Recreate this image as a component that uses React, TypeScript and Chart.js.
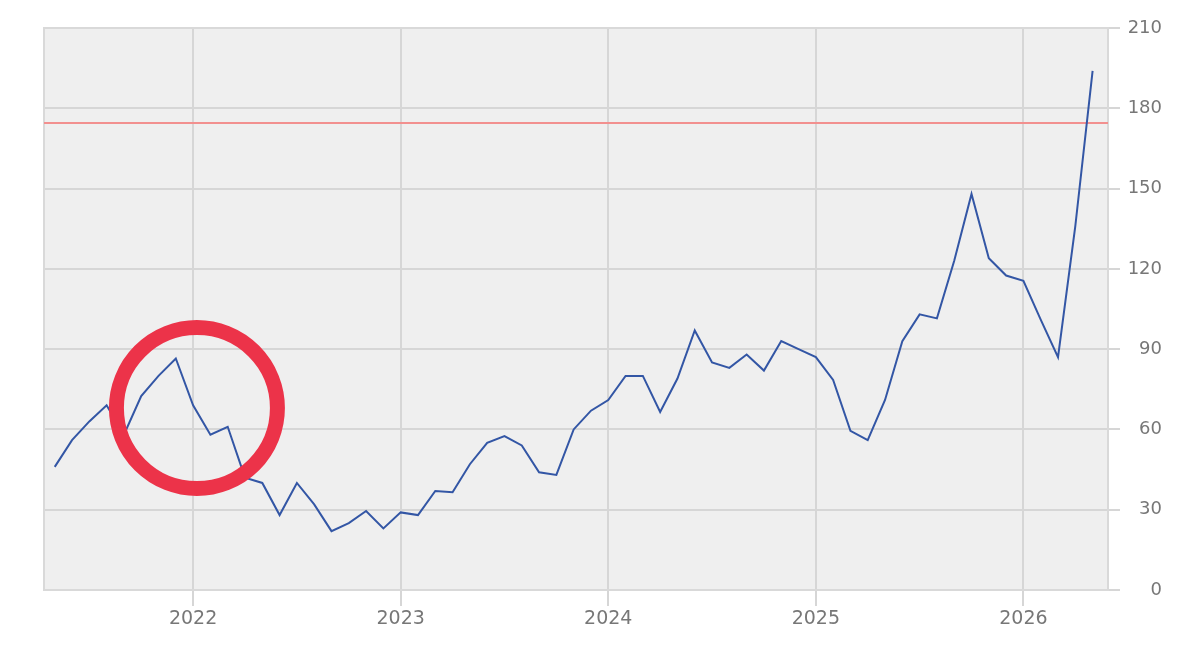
import { useEffect, useRef } from 'react';
import { Chart, registerables } from 'chart.js';

Chart.register(...registerables);

// monthly series, starting May 2021
const START_YEAR = 2021;
const START_MONTH = 5;
const VALUES = [
  46, 56, 63, 69, 58, 72.5, 80, 86.5,
  69, 58, 61, 42, 40, 28, 40, 32, 22, 25, 29.5, 23,
  29, 28, 37, 36.5, 47, 55, 57.5, 54, 44, 43, 60, 67,
  71, 80, 80, 66.5, 79, 97, 85, 83, 88, 82, 93, 90,
  87, 78.5, 59.5, 56, 71, 93, 103, 101.5, 123, 148, 124, 117.5,
  115.5, 101, 87, 136, 194,
];
const YEAR_LABELS = ['2022', '2023', '2024', '2025', '2026'];
const Y_MIN = 0;
const Y_MAX = 210;
const Y_STEP = 30;
const THRESHOLD = 174.5;

// x axis in months since Jan of START_YEAR
const X_MIN = 3.38;
const X_MAX = 64.89;

// highlight ring (data coords of centre)
const RING_X = 12.22;
const RING_Y = 68;

const monthX = (i: number) => START_MONTH - 1 + i;

const framePlugin = {
  id: 'frame',
  beforeDraw(chart: any) {
    const { ctx, chartArea } = chart;
    const { left, top, right, bottom } = chartArea;
    ctx.save();
    ctx.fillStyle = '#efefef';
    ctx.fillRect(left, top, right - left, bottom - top);
    ctx.restore();
  },
  beforeDatasetsDraw(chart: any) {
    const { ctx, chartArea } = chart;
    const { left, top, right, bottom } = chartArea;
    ctx.save();
    ctx.strokeStyle = '#d9d9d9';
    ctx.lineWidth = 2;
    ctx.strokeRect(left, top, right - left, bottom - top);
    ctx.restore();
  },
  afterDraw(chart: any) {
    const { ctx, scales } = chart;
    const cx = scales.x.getPixelForValue(RING_X);
    const cy = scales.y.getPixelForValue(RING_Y);
    ctx.save();
    ctx.strokeStyle = '#ec3349';
    ctx.lineWidth = 15;
    ctx.beginPath();
    ctx.arc(cx, cy, 80.5, 0, Math.PI * 2);
    ctx.stroke();
    ctx.restore();
  },
};

export default function App() {
  const canvasRef = useRef<HTMLCanvasElement>(null);
  const chartRef = useRef<Chart | null>(null);

  useEffect(() => {
    if (!canvasRef.current) return;
    if (chartRef.current) chartRef.current.destroy();

    const points = VALUES.map((v, i) => ({ x: monthX(i), y: v }));

    chartRef.current = new Chart(canvasRef.current, {
      type: 'line',
      data: {
        datasets: [
          {
            data: points,
            borderColor: '#3356a5',
            borderWidth: 2,
            pointRadius: 0,
            tension: 0,
          },
          {
            data: [
              { x: X_MIN, y: THRESHOLD },
              { x: X_MAX, y: THRESHOLD },
            ],
            borderColor: '#f2908f',
            borderWidth: 2,
            pointRadius: 0,
          },
        ],
      },
      options: {
        animation: false,
        responsive: true,
        maintainAspectRatio: false,
        layout: { padding: { left: 36, top: 20, right: 30, bottom: 0 } },
        plugins: {
          legend: { display: false },
          tooltip: { enabled: false },
        },
        scales: {
          x: {
            type: 'linear',
            min: X_MIN,
            max: X_MAX,
            afterBuildTicks: (scale: any) => {
              scale.ticks = YEAR_LABELS.map((y) => ({ value: (Number(y) - START_YEAR) * 12 }));
            },
            afterFit: (scale: any) => {
              scale.height = 56;
            },
            ticks: {
              autoSkip: false,
              maxRotation: 0,
              padding: 2,
              color: '#777777',
              font: { family: 'DejaVu Sans', size: 19 },
              callback: (value: any) => String(START_YEAR + Number(value) / 12),
            },
            grid: { color: '#d6d6d6', lineWidth: 2, tickLength: 16 },
            border: { display: false },
          },
          y: {
            position: 'right',
            min: Y_MIN,
            max: Y_MAX,
            afterFit: (scale: any) => {
              scale.width = 54;
            },
            ticks: {
              stepSize: Y_STEP,
              crossAlign: 'far',
              padding: 8,
              color: '#777777',
              font: { family: 'DejaVu Sans', size: 18 },
            },
            grid: { color: '#d6d6d6', lineWidth: 2, tickLength: 12 },
            border: { display: false },
          },
        },
      },
      plugins: [framePlugin],
    });

    return () => {
      chartRef.current?.destroy();
      chartRef.current = null;
    };
  }, []);

  return (
    <div style={{ width: 1184, height: 638, position: 'relative' }}>
      <canvas ref={canvasRef} />
    </div>
  );
}
